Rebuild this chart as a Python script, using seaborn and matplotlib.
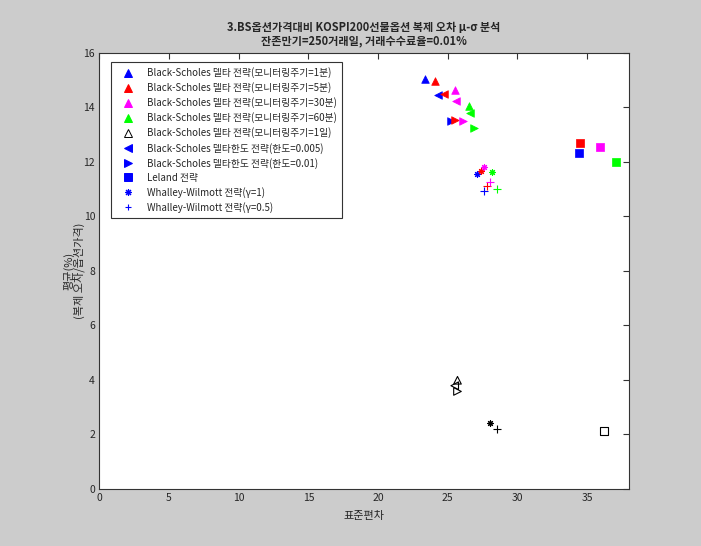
import pandas as pd
import matplotlib
matplotlib.use('Agg')
import matplotlib.pyplot as plt
from matplotlib.lines import Line2D
import seaborn as sns

# 모니터링 주기별 색 (blue, red, magenta, green, black)
PERIODS = ['1분', '5분', '30분', '60분', '1일']
PERIOD_COLORS = ['#0000ff', '#ff0000', '#ff00ff', '#00ff00', '#000000']

# 전략별 (표준편차, 평균) 값, 주기 순서대로
DELTA_X = [23.4, 24.1, 25.5, 26.5, 25.7]
DELTA_Y = [15.06, 14.96, 14.63, 14.04, 3.99]
BAND005_X = [24.3, 24.7, 25.6, 26.6, 25.5]
BAND005_Y = [14.47, 14.50, 14.25, 13.80, 3.79]
BAND01_X = [25.2, 25.5, 26.1, 26.9, 25.7]
BAND01_Y = [13.49, 13.55, 13.49, 13.25, 3.58]
LELAND_X = [34.4, 34.5, 35.9, 37.1, 36.2]
LELAND_Y = [12.32, 12.68, 12.56, 11.99, 2.13]
WW1_X = [27.1, 27.4, 27.6, 28.2, 28.0]
WW1_Y = [11.56, 11.66, 11.82, 11.62, 2.44]
WW05_X = [27.6, 27.8, 28.0, 28.5, 28.5]
WW05_Y = [10.95, 11.10, 11.25, 11.01, 2.21]

STRATEGIES = ['delta', 'band005', 'band01', 'leland', 'ww1', 'ww05']
STRAT_DATA = {
    'delta': (DELTA_X, DELTA_Y),
    'band005': (BAND005_X, BAND005_Y),
    'band01': (BAND01_X, BAND01_Y),
    'leland': (LELAND_X, LELAND_Y),
    'ww1': (WW1_X, WW1_Y),
    'ww05': (WW05_X, WW05_Y),
}
ASTERISK = (8, 2, 0)
STRAT_MARKERS = {'delta': '^', 'band005': '<', 'band01': '>', 'leland': 's',
                 'ww1': ASTERISK, 'ww05': '+'}
STRAT_SIZES = {'delta': 30, 'band005': 30, 'band01': 30, 'leland': 28,
               'ww1': 18, 'ww05': 40}

LEGEND_LABELS = [
    'Black-Scholes 델타 전략(모니터링주기=1분)',
    'Black-Scholes 델타 전략(모니터링주기=5분)',
    'Black-Scholes 델타 전략(모니터링주기=30분)',
    'Black-Scholes 델타 전략(모니터링주기=60분)',
    'Black-Scholes 델타 전략(모니터링주기=1일)',
    'Black-Scholes 델타한도 전략(한도=0.005)',
    'Black-Scholes 델타한도 전략(한도=0.01)',
    'Leland 전략',
    'Whalley-Wilmott 전략(γ=1)',
    'Whalley-Wilmott 전략(γ=0.5)',
]

rows = []
for s in STRATEGIES:
    xs, ys = STRAT_DATA[s]
    for p, x, y in zip(PERIODS, xs, ys):
        rows.append({'strategy': s, 'period': p, 'std': x, 'mean': y})
df = pd.DataFrame(rows)

sns.set_style('white')
plt.rcParams['font.family'] = ['Noto Sans CJK KR', 'DejaVu Sans']
plt.rcParams['axes.unicode_minus'] = False

fig = plt.figure(figsize=(7.01, 5.46), dpi=100, facecolor='#cccccc')
ax = fig.add_axes([0.1416, 0.1044, 0.7556, 0.7986])
ax.set_facecolor('white')

color_of = dict(zip(PERIODS, PERIOD_COLORS))
for (s, p), sub in df.groupby(['strategy', 'period'], sort=False):
    c = color_of[p]
    m = STRAT_MARKERS[s]
    line_marker = s in ('ww1', 'ww05')
    if line_marker:
        sns.scatterplot(data=sub, x='std', y='mean', marker=m, color=c,
                        s=STRAT_SIZES[s], linewidth=0.8, ax=ax, legend=False)
    elif p == '1일':
        sns.scatterplot(data=sub, x='std', y='mean', marker=m, color=c,
                        facecolor='none', edgecolor=c, s=STRAT_SIZES[s],
                        linewidth=0.8, ax=ax, legend=False)
    else:
        sns.scatterplot(data=sub, x='std', y='mean', marker=m, color=c,
                        edgecolor=c, s=STRAT_SIZES[s], linewidth=0.5,
                        ax=ax, legend=False)

ax.set_xlim(0, 38)
ax.set_ylim(0, 16)
ax.set_xticks(range(0, 36, 5))
ax.set_yticks(range(0, 17, 2))
ax.tick_params(direction='in', top=True, right=True, length=4,
               width=0.8, labelsize=7.5, color='#333333', pad=3)
for sp in ax.spines.values():
    sp.set_color('#333333')
    sp.set_linewidth(0.8)

ax.set_xlabel('표준편차', fontsize=8, labelpad=6)
ax.set_ylabel('평균(%)\n(복제 오차/옵션가격)', fontsize=8, labelpad=-1,
              linespacing=0.85)
ax.set_title('3.BS옵션가격대비 KOSPI200선물옵션 복제 오차 μ-σ 분석\n'
             '잔존만기=250거래일, 거래수수료율=0.01%',
             fontsize=8, fontweight='bold', linespacing=1.1, pad=6)

# 범례 (원본 그래프의 항목 순서 그대로)
leg_specs = [
    ('^', '#0000ff', True), ('^', '#ff0000', True), ('^', '#ff00ff', True),
    ('^', '#00ff00', True), ('^', '#000000', False), ('<', '#0000ff', True),
    ('>', '#0000ff', True), ('s', '#0000ff', True), (ASTERISK, '#0000ff', None),
    ('+', '#0000ff', None),
]
handles = []
for (m, c, filled), lab in zip(leg_specs, LEGEND_LABELS):
    if filled is None:
        h = Line2D([], [], linestyle='none', marker=m, color=c,
                   markersize=5, markeredgewidth=0.8, label=lab)
    else:
        h = Line2D([], [], linestyle='none', marker=m, markeredgecolor=c,
                   markerfacecolor=c if filled else 'none',
                   markersize=5.5, markeredgewidth=0.7, label=lab)
    handles.append(h)
leg = ax.legend(handles=handles, loc='upper left',
                bbox_to_anchor=(0.0215, 0.979), borderaxespad=0,
                fontsize=7, frameon=True, fancybox=False, framealpha=1,
                edgecolor='#333333', handletextpad=0.8, labelspacing=0.42,
                borderpad=0.55, handlelength=2.4)
leg.get_frame().set_linewidth(0.8)

fig.savefig('out.png', dpi=100, facecolor=fig.get_facecolor())
